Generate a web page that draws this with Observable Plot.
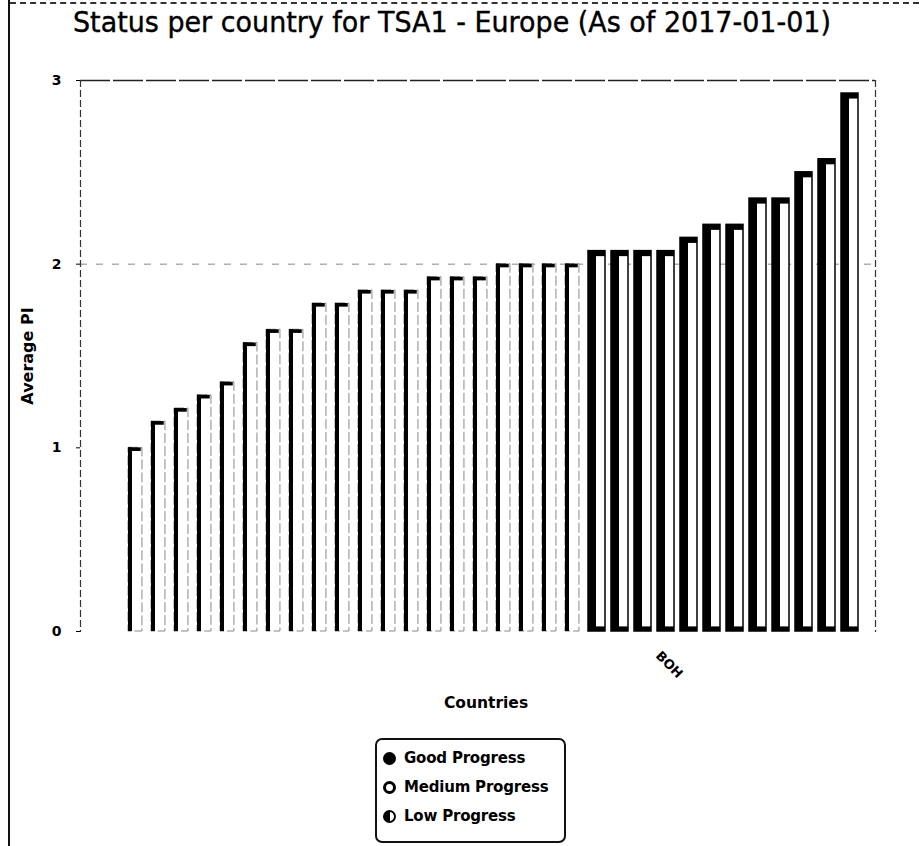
<!DOCTYPE html>
<html>
<head>
<meta charset="utf-8">
<script src="https://cdn.jsdelivr.net/npm/d3@7"></script>
<script src="https://cdn.jsdelivr.net/npm/@observablehq/plot@0.6"></script>
<style>
  html, body { margin: 0; padding: 0; background: #fff; }
  body { width: 919px; height: 846px; position: relative; overflow: hidden; font-family: "DejaVu Sans", Verdana, sans-serif; }
  #edgeL { position: absolute; left: 8px; top: 0; width: 2px; height: 846px; background: #111; z-index: 5; }
  #edgeT { position: absolute; left: 10px; top: 2px; width: 909px; border-top: 2px dashed #333; z-index: 5; }
  #title { position: absolute; left: 73px; top: 6px; font-size: 28px; white-space: nowrap; transform-origin: 0 0; color: #000; z-index: 4; -webkit-text-stroke: 0.4px #000; }
  #chart { position: absolute; left: 0; top: 50px; }
  #legend { position: absolute; left: 375px; top: 738px; width: 191px; height: 105px; border: 2px solid #111; border-radius: 7px; box-sizing: border-box; background: #fff; }
  .row { position: absolute; left: 6px; display: flex; align-items: center; font-weight: bold; font-size: 15px; letter-spacing: -0.2px; }
  .sym { width: 9px; height: 9px; border-radius: 50%; border: 2px solid #000; margin-right: 8px; box-sizing: content-box; }
</style>
</head>
<body>
<div id="edgeL"></div>
<div id="edgeT"></div>
<div id="title">Status per country for TSA1 - Europe (As of 2017-01-01)</div>
<div id="chart"></div>
<div id="legend"></div>
<script>
// ---- data ----
const countries = ["C01","C02","C03","C04","C05","C06","C07","C08","C09","C10",
  "C11","C12","C13","C14","C15","C16","C17","C18","C19","C20",
  "C21","C22","C23","BOH","C25","C26","C27","C28","C29","C30","C31","C32"];
const averagePI = [1.0, 1.143, 1.214, 1.286, 1.357, 1.571, 1.643, 1.643, 1.786, 1.786,
  1.857, 1.857, 1.857, 1.929, 1.929, 1.929, 2.0, 2.0, 2.0, 2.0,
  2.071, 2.071, 2.071, 2.071, 2.143, 2.214, 2.214, 2.357, 2.357, 2.5, 2.571, 2.929];
const status = [
  "Medium Progress","Medium Progress","Medium Progress","Medium Progress","Medium Progress",
  "Medium Progress","Medium Progress","Medium Progress","Medium Progress","Medium Progress",
  "Medium Progress","Medium Progress","Medium Progress","Medium Progress","Medium Progress",
  "Medium Progress","Medium Progress","Medium Progress","Medium Progress","Medium Progress",
  "Good Progress","Good Progress","Good Progress","Good Progress","Good Progress","Good Progress",
  "Good Progress","Good Progress","Good Progress","Good Progress","Good Progress","Good Progress"];
const yTicks = [0, 1, 2, 3];
const xTickLabels = ["BOH"];
const legendItems = ["Good Progress", "Medium Progress", "Low Progress"];

const data = countries.map((c, i) => ({country: c, value: averagePI[i], status: status[i]}));
const good = data.filter(d => d.status === "Good Progress");
const medium = data.filter(d => d.status === "Medium Progress");

const xScale = {domain: countries, paddingInner: 0.25, paddingOuter: 1.1, align: 0.74, label: null};
const yScale = {domain: [0, 3], label: null};

function build(bw) {
  return Plot.plot({
    width: 919, height: 670,
    marginLeft: 80, marginRight: 44, marginTop: 30, marginBottom: 89,
    style: {fontFamily: "DejaVu Sans, Verdana, sans-serif", background: "transparent"},
    x: xScale, y: yScale,
    marks: [
      Plot.ruleY([2], {stroke: "#888", strokeDasharray: "7,9", strokeWidth: 1}),
      Plot.ruleY([3], {stroke: "#222", strokeDasharray: "30,3", strokeWidth: 1.5}),
      Plot.frame({anchor: "left", stroke: "#333", strokeDasharray: "6,4", strokeWidth: 1.2}),
      Plot.frame({anchor: "right", stroke: "#333", strokeDasharray: "6,4", strokeWidth: 1.2}),
      // medium bars
      Plot.barY(medium, {x: "country", y: "value", fill: "white", stroke: "#888", strokeWidth: 1, strokeDasharray: "10,3", insetRight: bw * 0.18}),
      Plot.barY(medium, {x: "country", y: "value", fill: "#000", insetRight: bw - 4}),
      Plot.barY(medium, {x: "country", y1: d => d.value - 0.02, y2: "value", fill: "#000", insetRight: bw * 0.25}),
      // good bars
      Plot.barY(good, {x: "country", y: "value", fill: "white", stroke: "#000", strokeWidth: 1.5}),
      Plot.barY(good, {x: "country", y: "value", fill: "#000", insetRight: bw - 8}),
      Plot.barY(good, {x: "country", y1: 0, y2: d => 0.025, fill: "#000"}),
      Plot.barY(good, {x: "country", y1: d => d.value - 0.03, y2: "value", fill: "#000"}),
      Plot.axisY({ticks: yTicks, tickFormat: d3.format("d"), tickSize: 4, tickPadding: 15, fontWeight: "bold", fontSize: 14, label: null}),
      Plot.text(["Average PI"], {frameAnchor: "left", dx: -53, rotate: -90, fontWeight: "bold", fontSize: 16, textAnchor: "middle", style: {letterSpacing: "1px"}}),
      Plot.axisX({ticks: xTickLabels, tickSize: 0, tickPadding: 22, dx: -8, tickRotate: 45, fontWeight: "bold", fontSize: 13, label: null}),
      Plot.text(["Countries"], {frameAnchor: "bottom", dy: 76, dx: 8, fontWeight: "bold", fontSize: 15.5})
    ]
  });
}

const probe = build(18);
const bw = probe.scale("x").bandwidth;
const chart = build(bw);
document.getElementById("chart").appendChild(chart);

// title fit
const title = document.getElementById("title");
const tw = title.getBoundingClientRect().width;
title.style.transform = `scaleX(${758 / tw})`;

// legend
const legend = document.getElementById("legend");
const symStyles = {
  "Good Progress": "background:#000;",
  "Medium Progress": "background:#fff;border-width:3px;width:7px;height:7px;",
  "Low Progress": "background:linear-gradient(90deg,#000 55%,#fff 55%);"
};
legendItems.forEach((name, i) => {
  const row = document.createElement("div");
  row.className = "row";
  row.style.top = (9 + i * 29) + "px";
  row.innerHTML = `<span class="sym" style="${symStyles[name]}"></span><span>${name}</span>`;
  legend.appendChild(row);
});
</script>
</body>
</html>
